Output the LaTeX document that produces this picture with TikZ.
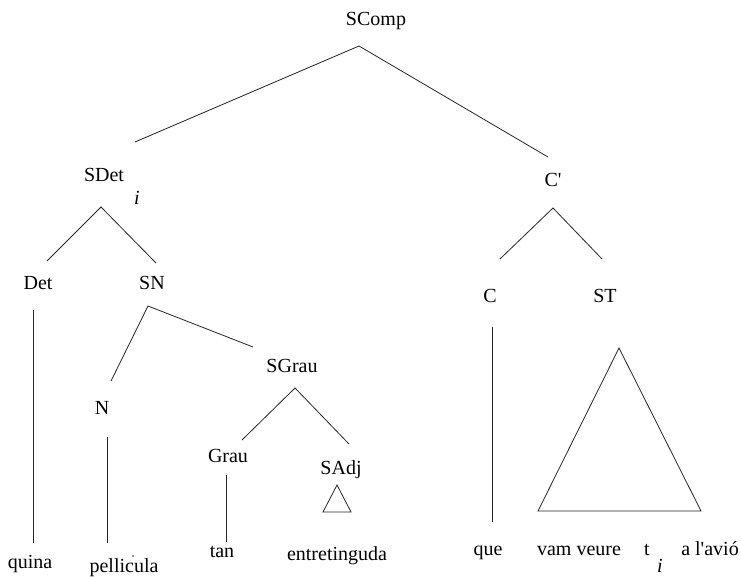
\documentclass[tikz,border=0pt]{standalone}
\usepackage{fontspec}
\setmainfont{Liberation Serif}[Ligatures=TeXOff]
\begin{document}
\begin{tikzpicture}[x=1pt,y=-1pt,
  lbl/.style={anchor=base,inner sep=0pt,font=\fontsize{20}{24}\selectfont},
  idx/.style={anchor=base,inner sep=0pt,font=\fontsize{20}{24}\selectfont\itshape},
  branch/.style={draw=black!85,line width=0.8pt},
  tri/.style={draw=black!85,line width=0.8pt}]
\useasboundingbox (0,0) rectangle (741,577);

% category labels
\node[lbl] (scomp) at (376,26) {SComp};
\node[lbl] (sdet)  at (104,182) {SDet};
\node[idx] (sdeti) at (137,205) {i};
\node[lbl] (cbar)  at (553,187) {C'};
\node[lbl] (det)   at (38,289) {Det};
\node[lbl] (sn)    at (152,289) {SN};
\node[lbl] (c)     at (490,302) {C};
\node[lbl] (st)    at (605,302) {ST};
\node[lbl] (sgrau) at (292,372) {SGrau};
\node[lbl] (n)     at (102,414) {N};
\node[lbl] (grau)  at (228,462) {Grau};
\node[lbl] (sadj)  at (341,474) {SAdj};

% words
\node[lbl] (quina) at (30,568) {quina};
\node[lbl] (pel)   at (124,572) {pellicula};
\node[lbl] (tan)   at (222,557) {tan};
\node[lbl] (entr)  at (337,560) {entretinguda};
\node[lbl] (que)   at (488,555) {que};
\node[lbl] (vam)   at (579,555) {vam veure};
\node[lbl] (tr)    at (647,555) {t};
\node[idx] (tri)   at (660,572) {i};
\node[lbl] (avio)  at (710,555) {a l'avió};
\fill[black!80] (133,556) circle (0.9);

% branch points
\coordinate (scompT) at (359,46);
\coordinate (scompL) at (135,142);
\coordinate (scompR) at (548,157);
\coordinate (sdetT)  at (101,207);
\coordinate (sdetL)  at (47,261);
\coordinate (sdetR)  at (156,263);
\coordinate (cbarT)  at (553,208);
\coordinate (cbarL)  at (500,259);
\coordinate (cbarR)  at (602,259);
\coordinate (snT)    at (148,306);
\coordinate (snL)    at (111,381);
\coordinate (snR)    at (253,347);
\coordinate (sgrauT) at (295,388);
\coordinate (sgrauL) at (242,440);
\coordinate (sgrauR) at (349,444);
\coordinate (detT)   at (33,310);
\coordinate (detB)   at (33,543);
\coordinate (nT)     at (107,437);
\coordinate (nB)     at (107,543);
\coordinate (grauT)  at (226,475);
\coordinate (grauB)  at (226,542);
\coordinate (cT)     at (492,327);
\coordinate (cB)     at (492,522);

% branches
\draw[branch] (scompL) -- (scompT) -- (scompR);
\draw[branch] (sdetL) -- (sdetT) -- (sdetR);
\draw[branch] (cbarL) -- (cbarT) -- (cbarR);
\draw[branch] (snL) -- (snT) -- (snR);
\draw[branch] (sgrauL) -- (sgrauT) -- (sgrauR);
\draw[branch] (detT) -- (detB);
\draw[branch] (nT) -- (nB);
\draw[branch] (grauT) -- (grauB);
\draw[branch] (cT) -- (cB);

% triangles for unanalysed constituents
\draw[tri] (337,485) -- (351,512) -- (323,512) -- cycle;
\draw[tri] (619,348) -- (701,511) -- (538,511) -- cycle;
\end{tikzpicture}
\end{document}
